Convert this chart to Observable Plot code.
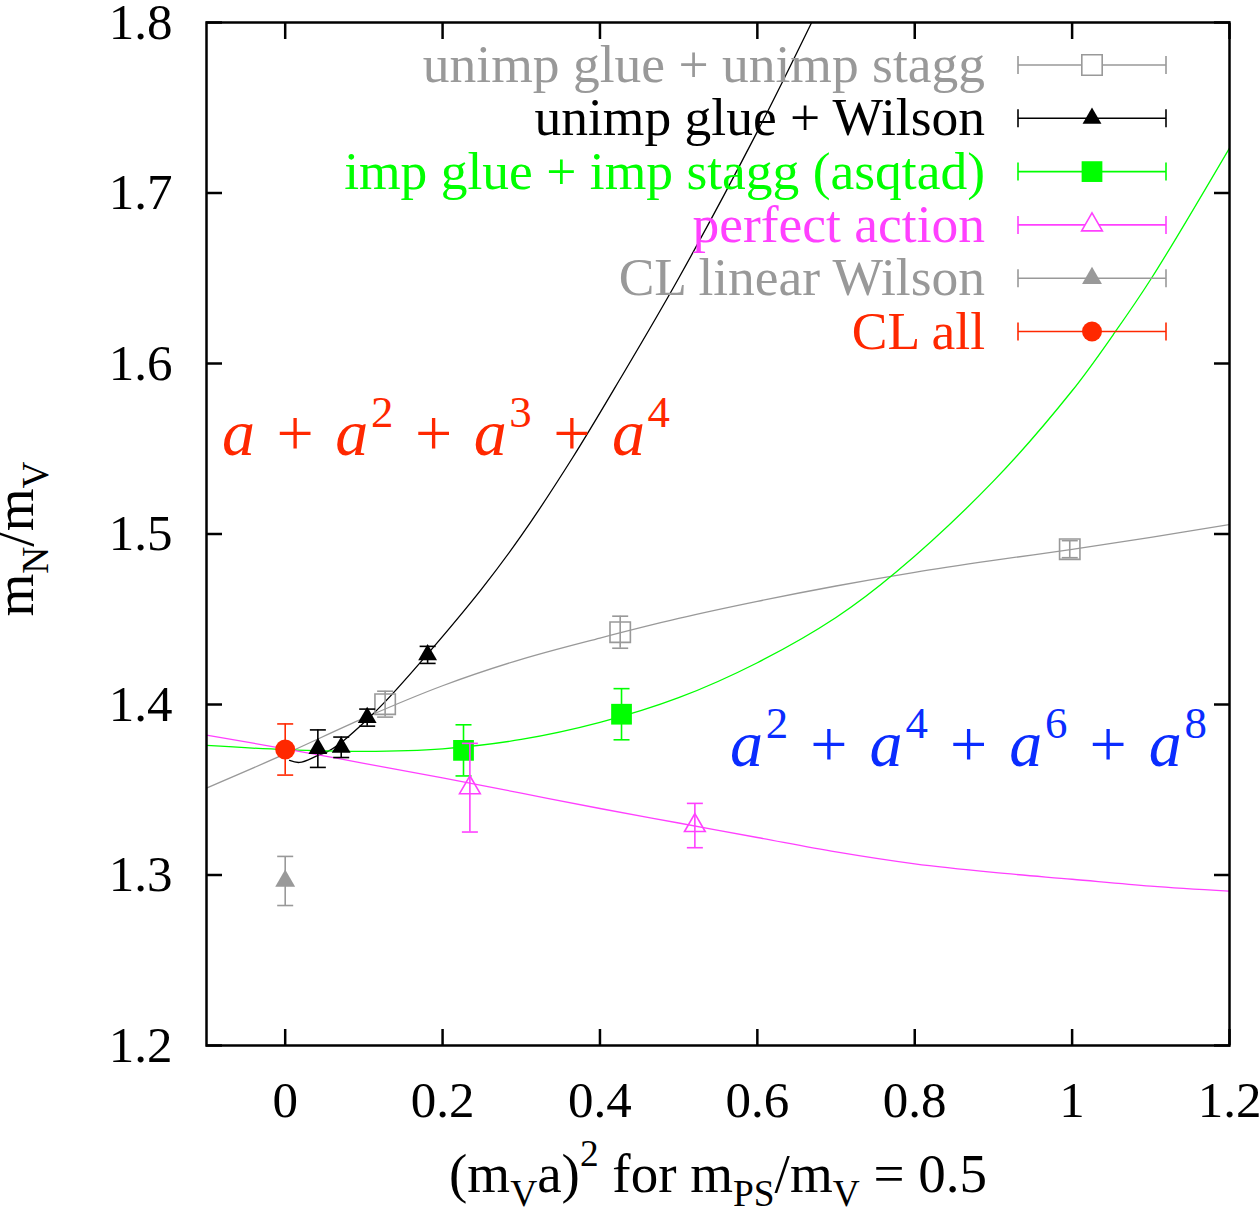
<!DOCTYPE html>
<html><head><meta charset="utf-8">
<script src="https://cdn.jsdelivr.net/npm/d3@7"></script>
<script src="https://cdn.jsdelivr.net/npm/@observablehq/plot@0.6"></script>
<style>body{margin:0;background:#fff} svg{display:block}</style>
</head><body><div id="chart"></div>
<script>
// ---------- data ----------
const xTicks = [0, 0.2, 0.4, 0.6, 0.8, 1, 1.2];
const yTicks = [1.2, 1.3, 1.4, 1.5, 1.6, 1.7, 1.8];

const seriesNames = ["unimp glue + unimp stagg", "unimp glue + Wilson", "imp glue + imp stagg (asqtad)", "perfect action", "CL linear Wilson", "CL all"];
const seriesColors = ["#999999", "#000000", "#00ff00", "#ff40ff", "#999999", "#ff2800"];

const staggX = [0.127, 0.4257, 0.997];
const staggY = [1.4002, 1.4424, 1.4911];
const staggErr = [0.0076, 0.0094, 0.005];

const wilsonX = [0.0415, 0.0712, 0.1042, 0.181];
const wilsonY = [1.3741, 1.3749, 1.3923, 1.4291];
const wilsonErr = [0.011, 0.006, 0.005, 0.005];

const asqtadX = [0.2266, 0.4274];
const asqtadY = [1.3731, 1.3943];
const asqtadErr = [0.015, 0.015];

const perfectX = [0.2347, 0.5206];
const perfectY = [1.3512, 1.329];
const perfectErr = [0.026, 0.013];

const clLinX = [0];
const clLinY = [1.2965];
const clLinErr = [0.0144];

const clAllX = [0];
const clAllY = [1.3736];
const clAllErr = [0.015];

// fit curves
const fitWilsonX = [0.0055, 0.0182, 0.0415, 0.0543, 0.0733, 0.1029, 0.1283, 0.1792, 0.25, 0.30, 0.3656, 0.4248, 0.50, 0.60, 0.669];
const fitWilsonY = [1.3672, 1.3660, 1.3701, 1.3725, 1.3785, 1.3906, 1.4023, 1.4287, 1.468, 1.499, 1.545, 1.5903, 1.650, 1.736, 1.800];

const fitAsqtadX = [-0.1, 0, 0.1, 0.2, 0.3, 0.4, 0.5, 0.6, 0.7, 0.776, 0.9, 1.0, 1.0524, 1.1004, 1.2];
const fitAsqtadY = [1.376, 1.3735, 1.3725, 1.374, 1.3795, 1.3895, 1.404, 1.4245, 1.451, 1.4775, 1.531, 1.584, 1.617, 1.6497, 1.7264];

const fitStaggX = [-0.1, 0, 0.1, 0.2, 0.3, 0.4, 0.5, 0.6, 0.7, 0.8, 0.9, 1.0, 1.1, 1.2];
const fitStaggY = [1.351, 1.371, 1.392, 1.411, 1.4265, 1.439, 1.4505, 1.4605, 1.4695, 1.4775, 1.4845, 1.491, 1.498, 1.5056];

const fitPerfectX = [-0.1, 0, 0.1, 0.2, 0.3, 0.4, 0.5, 0.6, 0.7, 0.8, 0.9, 1.0, 1.1, 1.2];
const fitPerfectY = [1.382, 1.374, 1.3655, 1.357, 1.348, 1.339, 1.3305, 1.322, 1.3135, 1.3065, 1.3015, 1.2975, 1.2935, 1.2905];

const xLabelParts = [["(", ""], ["m", ""], ["V", "sub"], ["a)", ""], ["2", "sup"], [" for m", ""], ["PS", "sub"], ["/m", ""], ["V", "sub"], [" = 0.5", ""]];
const yLabelParts = [["m", ""], ["N", "sub"], ["/m", ""], ["V", "sub"]];
const mathOdd = [["a", "i"], [" + ", ""], ["a", "i"], ["2", "sup"], [" + ", ""], ["a", "i"], ["3", "sup"], [" + ", ""], ["a", "i"], ["4", "sup"]];
const mathEven = [["a", "i"], ["2", "sup"], [" + ", ""], ["a", "i"], ["4", "sup"], [" + ", ""], ["a", "i"], ["6", "sup"], [" + ", ""], ["a", "i"], ["8", "sup"]];

// ---------- build ----------
const pts = (X, Y, E) => X.map((x, i) => ({x, y: Y[i], e: E[i]}));
const crv = (X, Y) => X.map((x, i) => ({x, y: Y[i]}));

const serif = "'Liberation Serif', 'Times New Roman', serif";
const fs = 51;

const capSym = {draw(ctx) { ctx.moveTo(-8, 0); ctx.lineTo(8, 0); }};

// marker specs per series: symbol, filled?, r
const markerSpec = [
  {sym: "square", fill: false, r: 11.5},
  {sym: "triangle", fill: true, r: 7},
  {sym: "square", fill: true, r: 11.7},
  {sym: "triangle", fill: false, r: 7.7},
  {sym: "triangle", fill: true, r: 7.4},
  {sym: "circle", fill: true, r: 10}
];

const seriesPts = [
  pts(staggX, staggY, staggErr),
  pts(wilsonX, wilsonY, wilsonErr),
  pts(asqtadX, asqtadY, asqtadErr),
  pts(perfectX, perfectY, perfectErr),
  pts(clLinX, clLinY, clLinErr),
  pts(clAllX, clAllY, clAllErr)
];
const seriesFits = [
  crv(fitStaggX, fitStaggY),
  crv(fitWilsonX, fitWilsonY),
  crv(fitAsqtadX, fitAsqtadY),
  crv(fitPerfectX, fitPerfectY),
  null, null
];

const marks = [];
seriesFits.forEach((f, i) => {
  if (f) marks.push(Plot.line(f, {x: "x", y: "y", stroke: seriesColors[i], strokeWidth: 1.3, curve: "catmull-rom", clip: true}));
});
seriesPts.forEach((p, i) => {
  const c = seriesColors[i];
  const m = markerSpec[i];
  marks.push(Plot.ruleX(p, {x: "x", y1: d => d.y - d.e, y2: d => d.y + d.e, stroke: c, strokeWidth: 1.6}));
  marks.push(Plot.dot(p, {x: "x", y: d => d.y - d.e, symbol: capSym, stroke: c, strokeWidth: 1.6, r: 8}));
  marks.push(Plot.dot(p, {x: "x", y: d => d.y + d.e, symbol: capSym, stroke: c, strokeWidth: 1.6, r: 8}));
  marks.push(Plot.dot(p, {x: "x", y: "y", symbol: m.sym, r: m.r,
    fill: m.fill ? c : "none", stroke: m.fill ? "none" : c, strokeWidth: 1.6}));
});

const plot = Plot.plot({
  width: 1259, height: 1213,
  marginLeft: 206, marginRight: 30, marginTop: 22, marginBottom: 168,
  style: {fontFamily: serif, fontSize: fs + "px", background: "#fff", color: "#000", overflow: "visible"},
  x: {domain: [-0.1, 1.2], label: null},
  y: {domain: [1.2, 1.8], label: null},
  marks: [
    Plot.axisX({anchor: "bottom", ticks: xTicks, tickSize: -16, tickPadding: 51, strokeWidth: 2.5, fontSize: fs, label: null,
      tickFormat: d => String(+d.toFixed(1))}),
    Plot.axisX({anchor: "top", ticks: xTicks, tickSize: -16, strokeWidth: 2.5, label: null, tickFormat: () => ""}),
    Plot.axisY({anchor: "left", ticks: yTicks, tickSize: -16, tickPadding: 50, strokeWidth: 2.5, fontSize: fs, label: null,
      tickFormat: d => d.toFixed(1)}),
    Plot.axisY({anchor: "right", ticks: yTicks, tickSize: -16, strokeWidth: 2.5, label: null, tickFormat: () => ""}),
    ...marks,
    Plot.frame({stroke: "#000", strokeWidth: 2.5})
  ]
});
document.getElementById("chart").appendChild(plot);

// ---------- rich text helpers ----------
const svg = d3.select(plot);
function rich(x, y, parts, {size, anchor = "start", fill = "#000", rotate = null, subShift = 0.27, supShift = 0.47, small = 0.65, textLength = null}) {
  const t = svg.append("text").attr("x", x).attr("y", y).attr("font-size", size)
    .attr("font-family", serif).attr("fill", fill).attr("text-anchor", anchor).style("white-space", "pre");
  if (rotate != null) t.attr("transform", `rotate(${rotate},${x},${y})`);
  let cur = 0;
  for (const [str, kind] of parts) {
    let shift = 0, fsz = size;
    if (kind === "sub") { shift = size * subShift; fsz = size * small; }
    if (kind === "sup") { shift = -size * supShift; fsz = size * small; }
    const ts = t.append("tspan").attr("dy", shift - cur).attr("font-size", fsz).text(str);
    if (kind === "i") ts.attr("font-style", "italic");
    cur = shift;
  }
  if (textLength) t.attr("textLength", textLength).attr("lengthAdjust", "spacing");
  return t;
}

// axis labels
rich(718, 1192, xLabelParts, {size: 55, anchor: "middle", small: 0.68, subShift: 0.25});
rich(33, 539, yLabelParts, {size: 55, anchor: "middle", rotate: -90, subShift: 0.28, small: 0.68});

// formula annotations
rich(222, 455, mathOdd, {size: 66, fill: "#ff2800", supShift: 0.42, small: 0.68, textLength: 448});
rich(730, 766, mathEven, {size: 66, fill: "#0a2cff", supShift: 0.42, small: 0.68, textLength: 477});

// ---------- legend ----------
const legY0 = 65, legDy = 53.3, legTextX = 985, legL = 1018, legR = 1166, legM = 1092;
const symMap = {square: d3.symbolSquare, triangle: d3.symbolTriangle, circle: d3.symbolCircle};
seriesNames.forEach((name, i) => {
  const y = legY0 + i * legDy, c = seriesColors[i], m = markerSpec[i];
  const g = svg.append("g");
  g.append("text").attr("x", legTextX).attr("y", y).attr("dy", "0.32em").attr("text-anchor", "end")
    .attr("font-family", serif).attr("font-size", 53.5).attr("fill", c).text(name);
  g.append("line").attr("x1", legL).attr("x2", legR).attr("y1", y).attr("y2", y).attr("stroke", c).attr("stroke-width", 1.6);
  g.append("line").attr("x1", legL).attr("x2", legL).attr("y1", y - 9).attr("y2", y + 9).attr("stroke", c).attr("stroke-width", 1.6);
  g.append("line").attr("x1", legR).attr("x2", legR).attr("y1", y - 9).attr("y2", y + 9).attr("stroke", c).attr("stroke-width", 1.6);
  g.append("path").attr("transform", `translate(${legM},${y})`)
    .attr("d", d3.symbol(symMap[m.sym], Math.PI * m.r * m.r)())
    .attr("fill", m.fill ? c : "#fff").attr("stroke", m.fill ? "none" : c).attr("stroke-width", 1.6);
});
</script>
</body></html>
